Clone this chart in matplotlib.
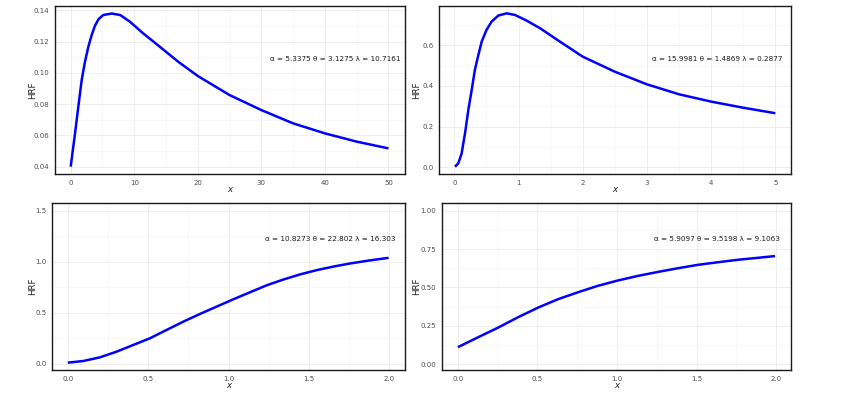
import matplotlib
matplotlib.use("Agg")
import matplotlib.pyplot as plt
from matplotlib.ticker import MultipleLocator, FuncFormatter

# ---- data ----
x1 = [0, 0.68, 1.2, 1.73, 2.25, 2.78, 3.3, 3.8, 4.35, 5.1, 6.45, 7.8, 9.3, 11.4, 14.0,
      16.9, 20, 25, 30, 35, 40, 45, 50]
y1 = [0.040, 0.0613, 0.0784, 0.0955, 0.1072, 0.1168, 0.1242, 0.1300, 0.1342, 0.1370,
      0.1380, 0.1370, 0.1328, 0.1253, 0.1168, 0.1072, 0.0980, 0.0858, 0.0762, 0.0677,
      0.0613, 0.0560, 0.0517]

x2 = [0.01, 0.062, 0.114, 0.166, 0.218, 0.27, 0.32, 0.374, 0.426, 0.5, 0.58, 0.685,
      0.815, 0.945, 1.127, 1.334, 1.62, 2.0, 2.5, 3.0, 3.5, 4.0, 4.5, 5.0]
y2 = [0.003, 0.020, 0.069, 0.167, 0.282, 0.380, 0.479, 0.552, 0.618, 0.675, 0.716,
      0.746, 0.757, 0.749, 0.721, 0.684, 0.623, 0.544, 0.470, 0.408, 0.359, 0.323,
      0.293, 0.266]

x3 = [0.0, 0.096, 0.2, 0.304, 0.407, 0.511, 0.615, 0.72, 0.823, 0.927, 1.031, 1.135,
      1.24, 1.343, 1.447, 1.551, 1.655, 1.759, 1.863, 1.996]
y3 = [0.010, 0.026, 0.062, 0.118, 0.183, 0.249, 0.331, 0.413, 0.488, 0.560, 0.632,
      0.701, 0.770, 0.826, 0.876, 0.918, 0.953, 0.983, 1.009, 1.038]

x4 = [0.0, 0.126, 0.252, 0.378, 0.504, 0.63, 0.755, 0.88, 1.007, 1.133, 1.26, 1.385,
      1.51, 1.637, 1.763, 1.889, 1.994]
y4 = [0.110, 0.174, 0.237, 0.305, 0.368, 0.423, 0.468, 0.510, 0.545, 0.575, 0.601,
      0.625, 0.647, 0.664, 0.680, 0.693, 0.704]

labels = ["α = 5.3375 θ = 3.1275 λ = 10.7161",
          "α = 15.9981 θ = 1.4869 λ = 0.2877",
          "α = 10.8273 θ = 22.802 λ = 16.303",
          "α = 5.9097 θ = 9.5198 λ = 9.1063"]

W, H = 844, 399
fig = plt.figure(figsize=(W / 100, H / 100), dpi=100)
plt.rcParams['font.family'] = ['DejaVu Sans']

def add_ax(l, t, r, b):
    return fig.add_axes([l / W, 1 - b / H, (r - l) / W, (b - t) / H])

panels = [
    dict(box=(55, 6, 405, 174), x=x1, y=y1, xlim=(-2.47, 52.6), ylim=(0.0353, 0.1428),
         xt=10, yt=0.02, ylab_x=33, lab=labels[0], lx=41.6, ly=0.1089, xfmt="{:.0f}", yfmt="{:.2f}"),
    dict(box=(439, 6, 791, 174), x=x2, y=y2, xlim=(-0.239, 5.244), ylim=(-0.0328, 0.793),
         xt=1, yt=0.2, ylab_x=417, lab=labels[1], lx=4.09, ly=0.531, xfmt="{:.0f}", yfmt="{:.1f}"),
    dict(box=(52, 203, 405, 370), x=x3, y=y3, xlim=(-0.098, 2.098), ylim=(-0.062, 1.5755),
         xt=0.5, yt=0.5, ylab_x=33, lab=labels[2], lx=1.634, ly=1.222, xfmt="{:.1f}", yfmt="{:.1f}"),
    dict(box=(442, 203, 791, 370), x=x4, y=y4, xlim=(-0.1, 2.094), ylim=(-0.039, 1.05),
         xt=0.5, yt=0.25, ylab_x=417, lab=labels[3], lx=1.63, ly=0.815, xfmt="{:.1f}", yfmt="{:.2f}"),
]

for p in panels:
    l, t, r, b = p["box"]
    ax = add_ax(l, t, r, b)
    ax.plot(p["x"], p["y"], color="#0000FF", lw=1.8, solid_capstyle="butt",
            solid_joinstyle="round", zorder=3)
    ax.set_xlim(*p["xlim"])
    ax.set_ylim(*p["ylim"])
    ax.xaxis.set_major_locator(MultipleLocator(p["xt"]))
    ax.yaxis.set_major_locator(MultipleLocator(p["yt"]))
    ax.xaxis.set_minor_locator(MultipleLocator(p["xt"] / 2))
    ax.yaxis.set_minor_locator(MultipleLocator(p["yt"] / 2))
    ax.xaxis.set_major_formatter(FuncFormatter(lambda v, pos, f=p["xfmt"]: f.format(v)))
    ax.yaxis.set_major_formatter(FuncFormatter(lambda v, pos, f=p["yfmt"]: f.format(v)))
    ax.grid(which="major", color="#EBEBEB", lw=0.6)
    ax.grid(which="minor", color="#F4F4F4", lw=0.4)
    ax.set_axisbelow(True)
    ax.tick_params(which="both", length=0, labelsize=5, labelcolor="#4D4D4D", pad=4)
    for s in ax.spines.values():
        s.set_color("#1A1A1A")
        s.set_linewidth(1.0)
    ax.text(p["lx"], p["ly"], p["lab"], fontsize=5.2, color="#1A1A1A", ha="center", va="center")
    fig.text(p["ylab_x"] / W, 1 - ((t + b) / 2) / H, "HRF", rotation=90, fontsize=6.2,
             ha="center", va="center", color="#1A1A1A")
    fig.text(((l + r) / 2) / W, 1 - (b + 16) / H, "x", fontsize=6.2, style="italic",
             ha="center", va="center", color="#1A1A1A")

fig.savefig("out.png", dpi=100, facecolor="white")
